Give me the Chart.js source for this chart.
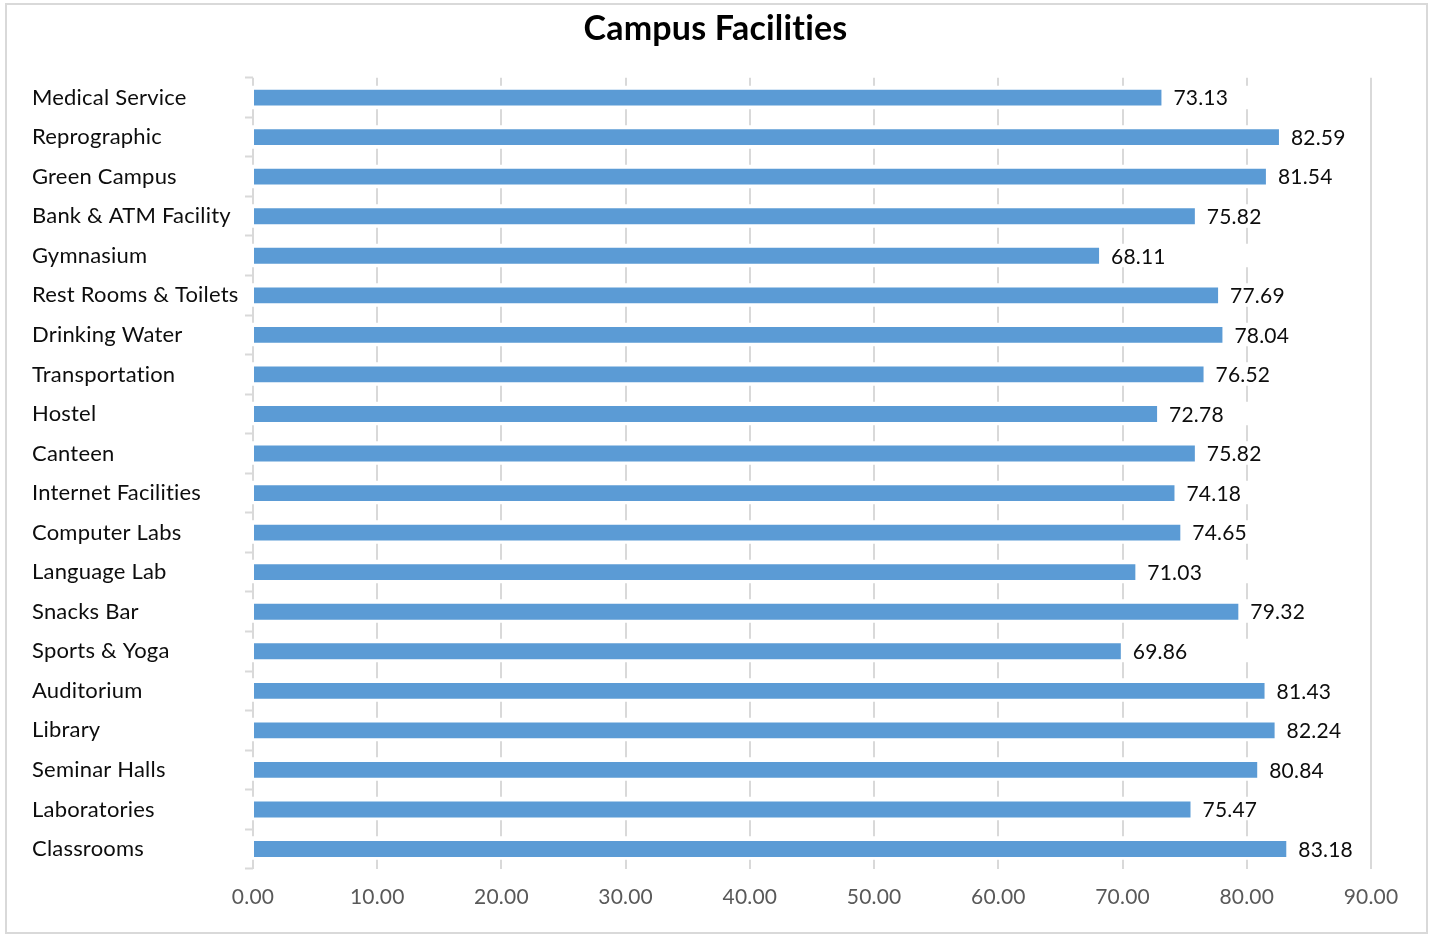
<!DOCTYPE html>
<html>
<head>
<meta charset="utf-8">
<script src="https://cdn.jsdelivr.net/npm/chart.js"></script>
<style>
    body { margin: 0; background: #fff; }
    #frame { position: absolute; left: 5px; top: 3px; width: 1419px; height: 927px; border: 2px solid #D9D9D9; }
    #chart { position: absolute; left: 0; top: 0; }
</style>
</head>
<body>
<div id="frame"></div>
<canvas id="chart" width="1433" height="934"></canvas>
<script>
const facilities = [
    'Medical Service', 'Reprographic', 'Green Campus', 'Bank & ATM Facility', 'Gymnasium',
    'Rest Rooms & Toilets', 'Drinking Water', 'Transportation', 'Hostel', 'Canteen',
    'Internet Facilities', 'Computer Labs', 'Language Lab', 'Snacks Bar', 'Sports & Yoga',
    'Auditorium', 'Library', 'Seminar Halls', 'Laboratories', 'Classrooms'
]
const scores = [
    73.13, 82.59, 81.54, 75.82, 68.11,
    77.69, 78.04, 76.52, 72.78, 75.82,
    74.18, 74.65, 71.03, 79.32, 69.86,
    81.43, 82.24, 80.84, 75.47, 83.18
]
const xMin = 0
const xMax = 90
const xStep = 10

const FONT = 'Lato, Carlito, "Open Sans", sans-serif'

// small letter spacing: closer to Calibri widths and no "ti" ligature
const spacing = {
    id: 'spacing',
    beforeUpdate(chart) { chart.ctx.letterSpacing = '0.2px' },
    beforeDraw(chart) { chart.ctx.letterSpacing = '0.2px' }
}

// value labels at the end of each bar
const valueLabels = {
    id: 'valueLabels',
    afterDatasetsDraw(chart) {
        const ctx = chart.ctx
        const meta = chart.getDatasetMeta(0)
        ctx.save()
        ctx.font = '21px ' + FONT
        ctx.fillStyle = '#0D0D0D'
        ctx.textAlign = 'left'
        ctx.textBaseline = 'middle'
        meta.data.forEach((bar, i) => {
            ctx.fillText(scores[i].toFixed(2), bar.x + 12, bar.y + 1)
        })
        ctx.restore()
    }
}

new Chart(document.getElementById('chart').getContext('2d'), {
    type: 'bar',
    data: {
        labels: facilities,
        datasets: [{
            label: 'Score',
            data: scores,
            backgroundColor: '#5B9BD5',
            categoryPercentage: 0.4,
            barPercentage: 1
        }]
    },
    options: {
        indexAxis: 'y',
        responsive: false,
        animation: false,
        layout: {
            padding: { left: 32, right: 34, top: 0, bottom: 8 }
        },
        plugins: {
            legend: { display: false },
            tooltip: { enabled: false },
            title: {
                display: true,
                text: 'Campus Facilities',
                color: '#000',
                font: { family: FONT, size: 34, weight: 'bold' },
                padding: { top: 9, bottom: 28 }
            }
        },
        scales: {
            x: {
                min: xMin,
                max: xMax,
                afterFit(scale) { scale.paddingRight = 62 },
                ticks: {
                    stepSize: xStep,
                    color: '#595959',
                    padding: 16,
                    font: { family: FONT, size: 21 },
                    callback: v => v.toFixed(2)
                },
                grid: {
                    color: '#D9D9D9',
                    lineWidth: 2,
                    drawTicks: false
                },
                border: {
                    display: false,
                    dash: c => (c.index === (xMax - xMin) / xStep ? [] : [16, 23.5]),
                    dashOffset: 8
                }
            },
            y: {
                afterFit(scale) { scale.width = 221 },
                ticks: {
                    crossAlign: 'far',
                    color: '#0D0D0D',
                    font: { family: FONT, size: 22 }
                },
                grid: {
                    drawOnChartArea: false,
                    drawTicks: true,
                    tickLength: 8,
                    tickColor: '#D9D9D9',
                    tickWidth: 2
                },
                border: { display: false }
            }
        }
    },
    plugins: [spacing, valueLabels]
})
</script>
</body>
</html>
